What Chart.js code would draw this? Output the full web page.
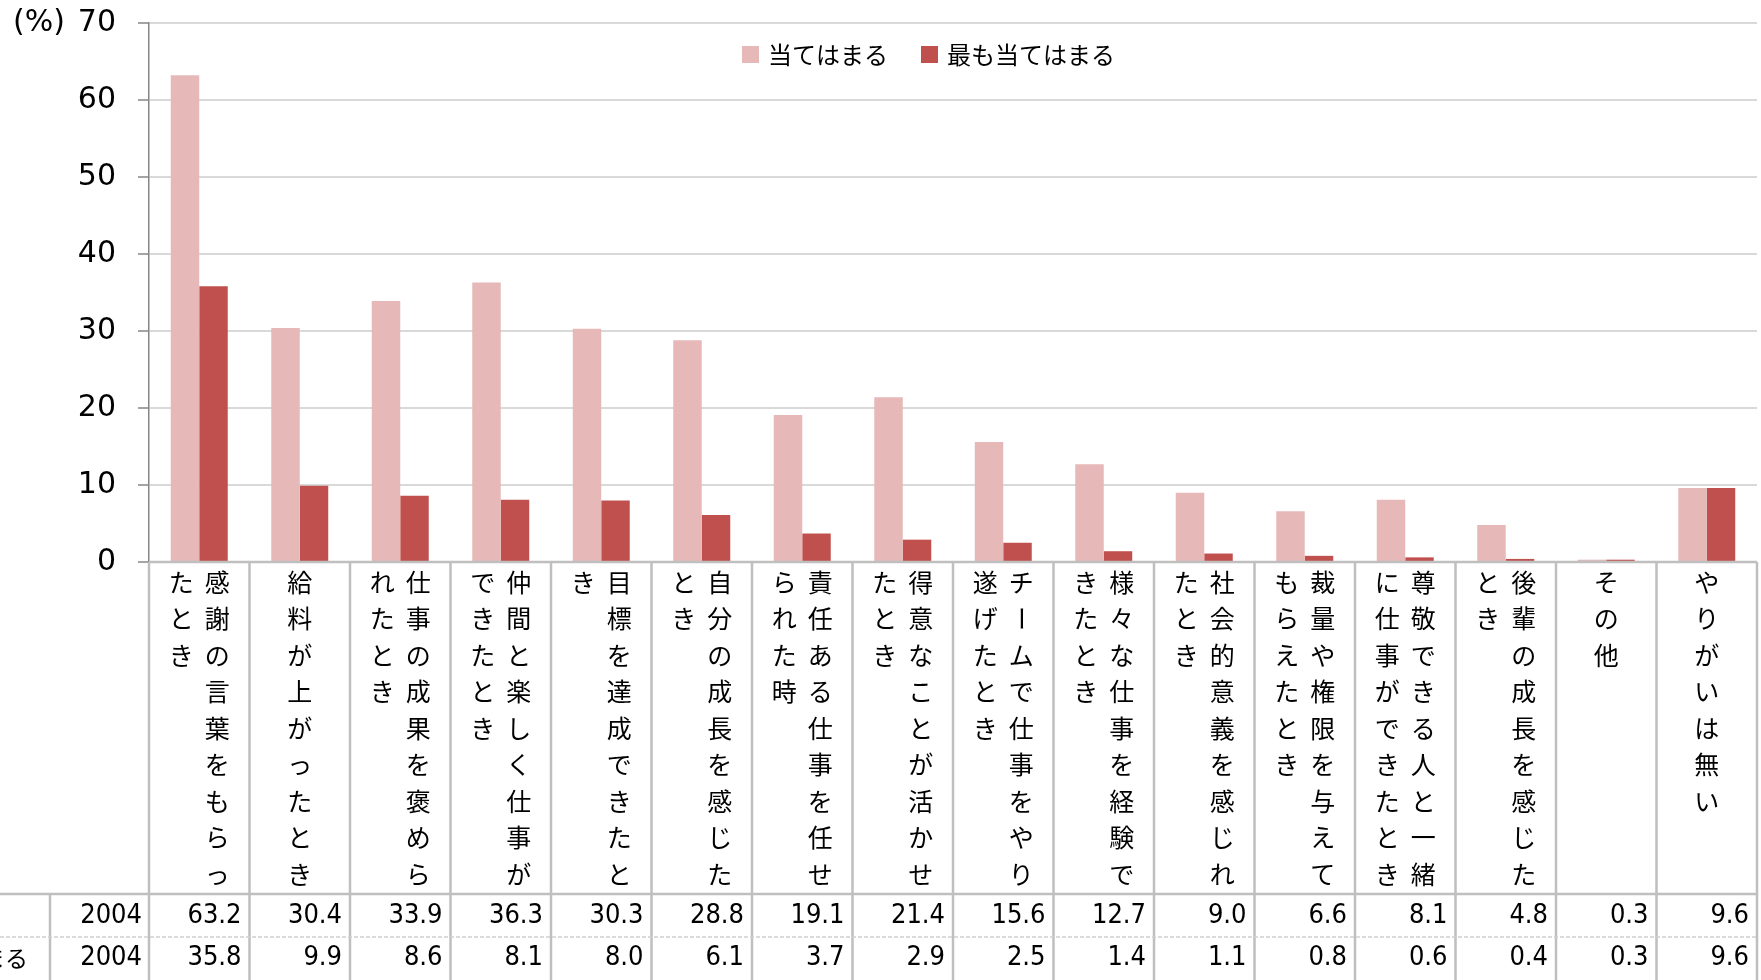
<!DOCTYPE html>
<html><head><meta charset="utf-8">
<script src="https://cdn.jsdelivr.net/npm/chart.js@4.4.0/dist/chart.umd.min.js"></script>
<style>html,body{margin:0;padding:0;background:#fff;overflow:hidden}#wrap{width:1761px;height:980px;position:relative}</style>
</head><body><div id="wrap"><canvas id="c" width="1761" height="980"></canvas></div>
<script>
const categories = [
  '感謝の言葉をもらったとき',
  '給料が上がったとき',
  '仕事の成果を褒められたとき',
  '仲間と楽しく仕事ができたとき',
  '目標を達成できたとき',
  '自分の成長を感じたとき',
  '責任ある仕事を任せられた時',
  '得意なことが活かせたとき',
  'チームで仕事をやり遂げたとき',
  '様々な仕事を経験できたとき',
  '社会的意義を感じれたとき',
  '裁量や権限を与えてもらえたとき',
  '尊敬できる人と一緒に仕事ができたとき',
  '後輩の成長を感じたとき',
  'その他',
  'やりがいは無い'
];
const seriesNames = ['当てはまる', '最も当てはまる'];
const yearLabel = '2004';
const applies = [63.2, 30.4, 33.9, 36.3, 30.3, 28.8, 19.1, 21.4, 15.6, 12.7, 9.0, 6.6, 8.1, 4.8, 0.3, 9.6];
const mostApplies = [35.8, 9.9, 8.6, 8.1, 8.0, 6.1, 3.7, 2.9, 2.5, 1.4, 1.1, 0.8, 0.6, 0.4, 0.3, 9.6];
const yAxisUnit = '(%)';
const yMin = 0, yMax = 70, yStep = 10;

const PINK = '#E6B8B7', RED = '#C0504D';
const JP = "'Noto Sans CJK JP', 'Noto Sans', sans-serif";
const NUM = "'DejaVu Sans', sans-serif";
const NUMC = "'DejaVu Sans Condensed', 'DejaVu Sans', sans-serif";
const TABLE_LINE = '#BFBFBF';

const tablePlugin = {
  id: 'tablePlugin',
  afterDraw(chart) {
    const ctx = chart.ctx;
    const xs = chart.scales.x;
    const area = chart.chartArea;
    const half = (xs.getPixelForValue(1) - xs.getPixelForValue(0)) / 2;
    const top = area.bottom;
    const labelBottom = 894, row1Bottom = 937, bottom = 980;
    const right = area.right;
    const leftCol = area.left;
    ctx.save();

    // (%) unit
    ctx.fillStyle = '#000';
    ctx.font = '30px ' + NUM;
    ctx.textAlign = 'left';
    ctx.textBaseline = 'middle';
    ctx.fillText(yAxisUnit, 13, chart.scales.y.getPixelForValue(yMax));

    // legend
    const legY = 54;
    let lx = 742;
    ctx.font = '24px ' + JP;
    chart.data.datasets.forEach((ds) => {
      ctx.fillStyle = ds.backgroundColor;
      ctx.fillRect(lx, legY - 8, 17, 17);
      lx += 17 + 9;
      ctx.fillStyle = '#000';
      ctx.textAlign = 'left';
      ctx.fillText(ds.label, lx, legY + 1);
      lx += ctx.measureText(ds.label).width + 33;
    });

    // category labels (vertical text)
    ctx.font = '25px ' + JP;
    ctx.fillStyle = '#000';
    ctx.textAlign = 'center';
    ctx.textBaseline = 'middle';
    const perCol = 9, colGap = 36, rowGap = 36.5, firstY = 582;
    categories.forEach((label, i) => {
      const cx = xs.getPixelForValue(i);
      const chars = Array.from(label);
      const cols = [];
      for (let k = 0; k < chars.length; k += perCol) cols.push(chars.slice(k, k + perCol));
      const n = cols.length;
      cols.forEach((col, k) => {
        const x = cx + ((n - 1) / 2 - k) * colGap;
        col.forEach((ch, j) => {
          const y = firstY + j * rowGap;
          if (ch === 'ー') {
            ctx.save();
            ctx.translate(x, y);
            ctx.rotate(Math.PI / 2);
            ctx.fillText(ch, 0, 0);
            ctx.restore();
          } else {
            ctx.fillText(ch, x, y);
          }
        });
      });
    });

    // data rows
    const rows = [applies, mostApplies];
    const rowY = [916, 958];
    ctx.font = '27px ' + NUMC;
    ctx.textAlign = 'right';
    rows.forEach((vals, r) => {
      ctx.fillText(yearLabel, leftCol - 7, rowY[r]);
      vals.forEach((v, i) => {
        const xr = xs.getPixelForValue(i) + half - 8;
        ctx.fillText(v.toFixed(1), xr, rowY[r]);
      });
    });
    // series names (cut off at left edge)
    ctx.font = '23px ' + JP;
    const startX = 28 - ctx.measureText(seriesNames[1]).width;
    ctx.textAlign = 'left';
    seriesNames.forEach((name, r) => ctx.fillText(name, startX, rowY[r]));

    // table lines
    ctx.strokeStyle = TABLE_LINE;
    ctx.lineWidth = 2.5;
    ctx.beginPath();
    ctx.moveTo(leftCol, top); ctx.lineTo(right, top);
    ctx.moveTo(0, labelBottom); ctx.lineTo(right, labelBottom);
    for (let i = 0; i <= categories.length; i++) {
      const x = i < categories.length ? xs.getPixelForValue(i) - half : xs.getPixelForValue(i - 1) + half;
      ctx.moveTo(x, top); ctx.lineTo(x, bottom);
    }
    ctx.moveTo(50, labelBottom); ctx.lineTo(50, bottom);
    ctx.stroke();
    ctx.strokeStyle = '#D0D0D0';
    ctx.lineWidth = 1.5;
    ctx.setLineDash([4, 2]);
    ctx.beginPath();
    ctx.moveTo(0, row1Bottom); ctx.lineTo(right, row1Bottom);
    ctx.stroke();
    ctx.restore();
  }
};

Chart.defaults.font.family = NUM;
Chart.defaults.color = '#000';

new Chart(document.getElementById('c'), {
  type: 'bar',
  data: {
    labels: categories,
    datasets: [
      { label: seriesNames[0], data: applies, backgroundColor: PINK, barPercentage: 1, categoryPercentage: 0.567 },
      { label: seriesNames[1], data: mostApplies, backgroundColor: RED, barPercentage: 1, categoryPercentage: 0.567 }
    ]
  },
  options: {
    responsive: false,
    animation: false,
    devicePixelRatio: 1,
    layout: { padding: { top: 23, right: 4, bottom: 418, left: 0 } },
    plugins: { legend: { display: false }, tooltip: { enabled: false } },
    scales: {
      x: { display: false },
      y: {
        min: yMin, max: yMax,
        ticks: { stepSize: yStep, font: { size: 30 }, padding: 22, color: '#000' },
        grid: { color: '#D9D9D9', lineWidth: 2, tickColor: '#868686', tickLength: 11, tickWidth: 1.5 },
        border: { color: '#868686', width: 1.5 },
        afterFit(scale) { scale.width = 149; scale.paddingTop = 0; scale.paddingBottom = 0; }
      }
    }
  },
  plugins: [tablePlugin]
});
</script></body></html>
